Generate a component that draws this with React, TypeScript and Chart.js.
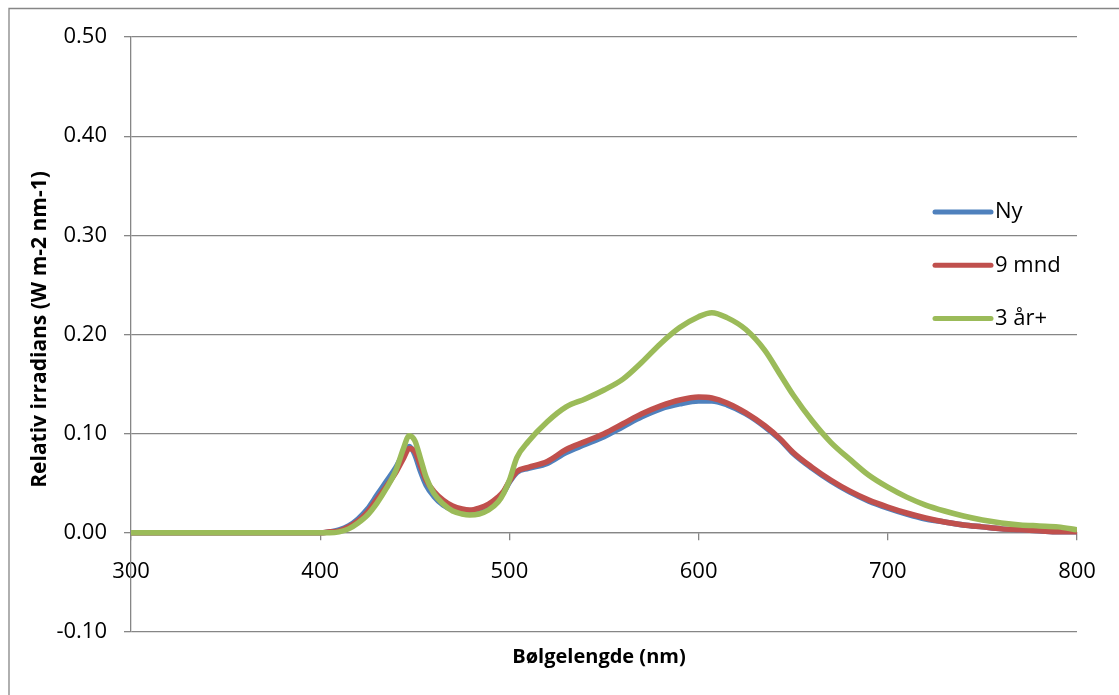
import React, { useEffect, useRef } from "react";
import { Chart, registerables } from "chart.js";

Chart.register(...registerables);

// Wavelength grid (nm)
const wavelengths = [
  300, 350, 400, 405, 410, 415, 420, 425, 430, 435, 440, 444, 447, 450, 453, 456, 460, 465, 470, 475,
  479, 484, 489, 494, 497, 500, 504, 510, 520, 530, 540, 550, 560, 570, 580, 590, 600, 607, 615, 625,
  635, 643, 650, 660, 670, 680, 690, 700, 710, 720, 730, 740, 750, 760, 770, 780, 790, 800,
];

// Ny
const nyValues = [
  0, 0, 0, 0.001, 0.003, 0.007, 0.014, 0.024, 0.038, 0.052, 0.066, 0.08, 0.087, 0.079, 0.062, 0.048, 0.037, 0.028, 0.023, 0.02,
  0.019, 0.021, 0.026, 0.034, 0.041, 0.051, 0.061, 0.065, 0.07, 0.081, 0.089, 0.097, 0.107, 0.117, 0.125, 0.13, 0.133, 0.133, 0.129, 0.12,
  0.107, 0.094, 0.08, 0.065, 0.052, 0.041, 0.032, 0.025, 0.019, 0.014, 0.011, 0.008, 0.006, 0.004, 0.003, 0.002, 0.001, 0.001,
];

// 9 mnd
const nineMonthValues = [
  0, 0, 0, 0.001, 0.002, 0.006, 0.012, 0.021, 0.034, 0.047, 0.061, 0.075, 0.085, 0.082, 0.068, 0.053, 0.042, 0.033, 0.027, 0.024,
  0.023, 0.025, 0.029, 0.036, 0.042, 0.052, 0.062, 0.066, 0.072, 0.084, 0.092, 0.1, 0.11, 0.12, 0.128, 0.134, 0.137, 0.136, 0.131, 0.121,
  0.108, 0.095, 0.081, 0.066, 0.053, 0.042, 0.033, 0.026, 0.02, 0.015, 0.011, 0.008, 0.006, 0.004, 0.003, 0.002, 0.001, 0.001,
];

// 3 år+
const threeYearValues = [
  0, 0, 0, 0, 0.001, 0.004, 0.01, 0.018, 0.03, 0.045, 0.063, 0.085, 0.098, 0.093, 0.075, 0.056, 0.04, 0.029, 0.022, 0.019,
  0.018, 0.019, 0.023, 0.031, 0.04, 0.053, 0.076, 0.092, 0.112, 0.127, 0.135, 0.144, 0.155, 0.172, 0.191, 0.207, 0.218, 0.222, 0.217, 0.205,
  0.184, 0.16, 0.139, 0.113, 0.091, 0.074, 0.058, 0.046, 0.036, 0.028, 0.022, 0.017, 0.013, 0.01, 0.008, 0.007, 0.006, 0.003,
];

const seriesLabels = ["Ny", "9 mnd", "3 år+"];
const seriesColors = ["#4F81BD", "#C0504D", "#9BBB59"];

const xMin = 300;
const xMax = 800;
const xStep = 100;
const yMin = -0.1;
const yMax = 0.5;
const yStep = 0.1;

const xTitle = "Bølgelengde (nm)";
const yTitle = "Relativ irradians (W m-2 nm-1)";

const FONT = "'Open Sans', 'Noto Sans', sans-serif";
const GRID = "#868686";

const decorPlugin = {
  id: "decor",
  beforeDraw(chart: any) {
    const { ctx, width, height } = chart;
    ctx.save();
    ctx.fillStyle = "#ffffff";
    ctx.fillRect(0, 0, width, height);
    ctx.strokeStyle = GRID;
    ctx.lineWidth = 1.3;
    ctx.beginPath();
    ctx.moveTo(9, height + 5);
    ctx.lineTo(9, 8.5);
    ctx.lineTo(width + 5, 8.5);
    ctx.stroke();
    ctx.restore();
  },
  afterDraw(chart: any) {
    const { ctx, chartArea } = chart;
    ctx.save();
    ctx.fillStyle = "#000";
    ctx.font = `bold 20px ${FONT}`;
    ctx.textAlign = "center";
    ctx.textBaseline = "middle";
    ctx.fillText(xTitle, (chartArea.left + chartArea.right) / 2 - 5, chartArea.bottom + 25);
    ctx.save();
    ctx.translate(40, (chartArea.top + chartArea.bottom) / 2 - 5);
    ctx.rotate(-Math.PI / 2);
    ctx.font = `bold 21px ${FONT}`;
    ctx.fillText(yTitle, 0, 0);
    ctx.restore();

    // legend
    const lx0 = 935;
    const lx1 = 991;
    const ly0 = 212;
    const ldy = 53.3;
    chart.data.datasets.forEach((ds: any, i: number) => {
      const y = ly0 + i * ldy;
      ctx.strokeStyle = ds.borderColor;
      ctx.lineWidth = 5;
      ctx.lineCap = "round";
      ctx.beginPath();
      ctx.moveTo(lx0, y);
      ctx.lineTo(lx1, y);
      ctx.stroke();
      ctx.font = `22px ${FONT}`;
      ctx.textAlign = "left";
      ctx.textBaseline = "middle";
      ctx.fillStyle = "#000";
      ctx.fillText(ds.label, lx1 + 4, y);
    });
    ctx.restore();
  },
};

export default function App() {
  const ref = useRef<HTMLCanvasElement>(null);

  useEffect(() => {
    const toPoints = (vals: number[]) => wavelengths.map((x, i) => ({ x, y: vals[i] }));
    const allValues = [nyValues, nineMonthValues, threeYearValues];
    const chart = new Chart(ref.current!, {
      type: "line",
      data: {
        datasets: allValues.map((vals, i) => ({
          label: seriesLabels[i],
          data: toPoints(vals),
          borderColor: seriesColors[i],
          backgroundColor: seriesColors[i],
          borderWidth: 5.5,
          pointRadius: 0,
          fill: false,
          cubicInterpolationMode: "monotone" as const,
          order: allValues.length - i,
        })),
      },
      options: {
        animation: false,
        responsive: false,
        devicePixelRatio: 1,
        layout: { padding: { left: 0, right: 42, top: 37, bottom: 63 } },
        plugins: {
          legend: { display: false },
          tooltip: { enabled: false },
        },
        scales: {
          x: {
            type: "linear",
            position: { y: 0 } as any,
            min: xMin,
            max: xMax,
            ticks: {
              stepSize: xStep,
              color: "#000",
              font: { family: FONT, size: 22 },
              padding: 19,
              maxRotation: 0,
            },
            grid: {
              drawOnChartArea: false,
              drawTicks: true,
              tickLength: 7,
              color: GRID,
              lineWidth: 1.3,
            },
            border: { display: true, color: GRID, width: 1.3 },
            afterFit: (s: any) => {
              s.height = 0;
            },
          },
          y: {
            type: "linear",
            min: yMin,
            max: yMax,
            ticks: {
              stepSize: yStep,
              color: "#000",
              font: { family: FONT, size: 22 },
              padding: 17,
              callback: (v: any) => {
                const n = Number(v);
                return (Math.abs(n) < 1e-9 ? 0 : n).toFixed(2);
              },
            },
            grid: {
              color: GRID,
              lineWidth: 1.3,
              tickLength: 7,
            },
            border: { display: true, color: GRID, width: 1.3 },
            afterFit: (s: any) => {
              s.width = 131;
            },
          },
        },
      },
      plugins: [decorPlugin],
    });
    return () => chart.destroy();
  }, []);

  return (
    <div style={{ position: "fixed", left: 0, top: 0, width: 1119, height: 695, background: "#fff" }}>
      <canvas ref={ref} width={1119} height={695} style={{ display: "block" }} />
    </div>
  );
}
